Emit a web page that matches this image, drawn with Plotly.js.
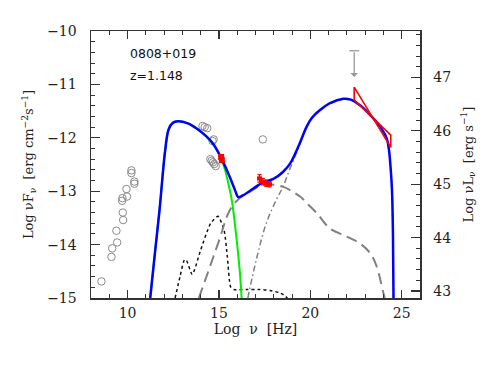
<!DOCTYPE html>
<html>
<head>
<meta charset="utf-8">
<script src="https://cdn.plot.ly/plotly-3.0.1.min.js"></script>
<style>html,body{margin:0;padding:0;background:#fff;}#chart{width:491px;height:365px;}</style>
</head>
<body>
<div id="chart"></div>
<script>
// Total model (blue)
const totalX = [11.24,11.5,11.75,12.06,12.25,12.48,12.75,13.3,13.8,14.3,14.7,15.13,15.6,15.88,16.06,16.3,16.88,17.43,17.98,18.5,18.9,19.35,19.8,20.1,20.53,21.08,21.8,22.17,22.72,23.27,23.82,24.18,24.3,24.4,24.47,24.52,24.55];
const totalY = [-15.0,-14.15,-13.35,-12.23,-11.84,-11.72,-11.69,-11.73,-11.83,-11.97,-12.12,-12.38,-12.74,-12.98,-13.11,-13.08,-12.95,-12.83,-12.77,-12.64,-12.48,-12.16,-11.79,-11.62,-11.48,-11.35,-11.27,-11.28,-11.39,-11.57,-11.79,-12.01,-12.22,-12.6,-13.0,-13.8,-15.0];
// Synchrotron (green)
const syncX = [11.24,11.5,11.75,12.06,12.25,12.48,12.75,13.3,13.8,14.3,14.7,15.13,15.35,15.51,15.7,15.97,16.15,16.24];
const syncY = [-15.0,-14.15,-13.35,-12.23,-11.84,-11.72,-11.69,-11.73,-11.83,-11.97,-12.13,-12.4,-12.62,-12.85,-13.16,-13.91,-14.54,-15.0];
// SSC (long dashed grey)
const sscX = [13.9,14.5,15.0,15.6,16.13,16.5,16.88,17.25,17.6,18.0,18.53,18.89,19.44,19.8,20.35,21.08,21.81,22.17,22.72,23.27,23.63,24.0,24.07];
const sscY = [-15.0,-14.42,-13.93,-13.35,-13.13,-13.05,-12.97,-12.9,-12.88,-12.88,-12.92,-12.98,-13.1,-13.22,-13.41,-13.7,-13.82,-13.88,-13.98,-14.16,-14.41,-14.91,-15.0];
// External Compton (dash-dot grey)
const ecX = [16.58,17.04,17.59,18.14,18.5,18.86,19.23,19.5,19.8,20.1,20.53,21.08,21.8,22.17,22.72,23.27,23.82,24.18,24.3,24.4,24.47,24.52,24.55];
const ecY = [-15.0,-14.29,-13.6,-13.16,-12.92,-12.6,-12.29,-12.04,-11.8,-11.63,-11.49,-11.36,-11.28,-11.29,-11.4,-11.58,-11.8,-12.02,-12.23,-12.61,-13.01,-13.81,-15.0];
// Disk + torus + corona (dotted black)
const diskX = [12.6,12.87,13.12,13.23,13.54,14.0,14.55,14.95,15.28,15.46,15.64,15.82,16.54,17.2,17.8,18.3,18.53,18.75];
const diskY = [-15.0,-14.6,-14.28,-14.3,-14.56,-14.1,-13.6,-13.47,-13.73,-14.23,-14.79,-14.84,-14.84,-14.84,-14.86,-14.9,-14.94,-15.0];
// Archival data (open grey circles)
const archX = [8.57,9.12,9.16,9.43,9.39,9.76,9.74,9.7,9.72,9.97,9.94,10.37,10.37,10.21,10.21,14.1,14.22,14.36,14.65,14.71,14.53,14.6,14.67,14.74,14.82,17.4];
const archY = [-14.69,-14.23,-14.07,-13.96,-13.74,-13.54,-13.4,-13.18,-13.13,-13.1,-12.96,-12.86,-12.82,-12.66,-12.61,-11.78,-11.8,-11.82,-12.06,-12.03,-12.4,-12.43,-12.46,-12.49,-12.53,-12.03];
// Simultaneous optical/UV (red)
const optX = [15.12,15.16];
const optY = [-12.36,-12.42];
// X-ray points (red, with errors)
const xrX = [17.22,17.4,17.59,17.77];
const xrY = [-12.76,-12.82,-12.85,-12.87];
const xrErrY = [0.07,0.06,0.06,0.05];
const xrErrX = [0.1,0.15,0.12,0.1];
// Fermi bow tie (red)
const bowX = [22.4,24.4,24.4,22.4,22.4];
const bowY = [-11.05,-12.18,-11.95,-11.29,-11.05];
// Upper limit
const ulX = [22.4];
const ulTop = [-10.37];
const ulTip = [-10.86];
// Labels
const sourceName = '0808+019';
const redshift = 'z=1.148';
const xTicks = [10,15,20,25];
const yTicks = [-15,-14,-13,-12,-11,-10];
const y2Ticks = [43,44,45,46,47];
const lumOffset = 57.869;

const serif = 'DejaVu Serif, Liberation Serif, serif';
const axCol = '#333';
const sm = 1.0;

const traces = [
  {x: archX, y: archY, mode: 'markers', type: 'scatter',
   marker: {symbol: 'circle-open', size: 7.5, color: '#8a8a8a', line: {width: 1, color: '#8a8a8a'}}},
  {x: diskX, y: diskY, mode: 'lines', type: 'scatter', line: {color: '#111', width: 1.5, dash: 'dot', shape: 'spline', smoothing: 0.6}},
  {x: sscX, y: sscY, mode: 'lines', type: 'scatter', line: {color: '#808080', width: 2, dash: '11px,6px', shape: 'spline', smoothing: sm}},
  {x: ecX, y: ecY, mode: 'lines', type: 'scatter', line: {color: '#808080', width: 1.5, dash: '6px,3px,1.5px,3px', shape: 'spline', smoothing: sm}},
  {x: syncX, y: syncY, mode: 'lines', type: 'scatter', line: {color: '#00ee00', width: 2, shape: 'spline', smoothing: sm}},
  {x: totalX, y: totalY, mode: 'lines', type: 'scatter', line: {color: '#0000ff', width: 2.5, shape: 'spline', smoothing: sm}},
  {x: bowX, y: bowY, mode: 'lines', type: 'scatter', line: {color: '#ff0000', width: 1.6}},
  {x: optX, y: optY, mode: 'markers', type: 'scatter', marker: {symbol: 'square', size: 6, color: '#ff0000'}},
  {x: xrX, y: xrY, mode: 'markers', type: 'scatter', marker: {symbol: 'square', size: 4, color: '#ff0000'},
   error_y: {type: 'data', array: xrErrY, color: '#ff0000', thickness: 1.2, width: 2},
   error_x: {type: 'data', array: xrErrX, color: '#ff0000', thickness: 1.2, width: 2}},
  {x: ulX, y: ulTop, mode: 'markers', type: 'scatter', marker: {symbol: 'line-ew', size: 7, line: {color: '#999', width: 1.3}}},
  {x: [22], y: [45], yaxis: 'y2', mode: 'markers', type: 'scatter', marker: {opacity: 0}, hoverinfo: 'skip'}
];

const layout = {
  width: 491, height: 365,
  margin: {l: 91, r: 71, t: 31, b: 67, pad: 0},
  paper_bgcolor: '#fff', plot_bgcolor: '#fff',
  showlegend: false,
  xaxis: {
    range: [8, 26], tickvals: xTicks, ticks: 'inside', ticklen: 8, tickwidth: 1.2, tickcolor: axCol,
    mirror: 'ticks', showline: true, linecolor: axCol, linewidth: 1.5, showgrid: false, zeroline: false,
    minor: {dtick: 1, tick0: 0, ticks: 'inside', ticklen: 4, tickwidth: 1, tickcolor: axCol, showgrid: false},
    tickfont: {family: serif, size: 14, color: '#222'}, ticklabelstandoff: 2,
    title: {text: 'Log  ν  [Hz]', font: {family: serif, size: 14, color: '#222'}, standoff: 4}
  },
  yaxis: {
    range: [-15, -10], tickvals: yTicks, ticks: 'inside', ticklen: 9, tickwidth: 1.2, tickcolor: axCol,
    showline: true, linecolor: axCol, linewidth: 1.5, showgrid: false, zeroline: false,
    minor: {dtick: 0.2, tick0: 0, ticks: 'inside', ticklen: 4, tickwidth: 1, tickcolor: axCol, showgrid: false},
    tickfont: {family: serif, size: 14, color: '#222'}, ticklabelstandoff: 10,
    title: {text: 'Log νF<sub>ν</sub>  [erg cm<sup>−2</sup>s<sup>−1</sup>]', font: {family: serif, size: 13, color: '#222'}, standoff: 10}
  },
  yaxis2: {
    overlaying: 'y', side: 'right', range: [-15 + lumOffset, -10 + lumOffset], tickvals: y2Ticks,
    ticks: 'inside', ticklen: 9, tickwidth: 1.2, tickcolor: axCol,
    showline: true, linecolor: axCol, linewidth: 1.5, showgrid: false, zeroline: false,
    minor: {dtick: 0.2, tick0: 0, ticks: 'inside', ticklen: 4, tickwidth: 1, tickcolor: axCol, showgrid: false},
    tickfont: {family: serif, size: 14, color: '#222'}, ticklabelstandoff: 9,
    title: {text: 'Log νL<sub>ν</sub>  [erg s<sup>−1</sup>]', font: {family: serif, size: 13, color: '#222'}, standoff: 13}
  },
  annotations: [
    {x: 10.0, y: -10.43, xref: 'x', yref: 'y', text: sourceName, showarrow: false, xanchor: 'left', yanchor: 'middle',
     font: {family: 'DejaVu Sans, sans-serif', size: 12.5, color: '#111'}},
    {x: 10.0, y: -10.84, xref: 'x', yref: 'y', text: redshift, showarrow: false, xanchor: 'left', yanchor: 'middle',
     font: {family: 'DejaVu Sans, sans-serif', size: 12.5, color: '#111'}},
    {x: ulX[0], y: ulTip[0], ax: ulX[0], ay: ulTop[0], xref: 'x', yref: 'y', axref: 'x', ayref: 'y', text: '',
     showarrow: true, arrowhead: 1, arrowsize: 1, arrowwidth: 1.3, arrowcolor: '#999'}
  ]
};

Plotly.newPlot('chart', traces, layout, {displayModeBar: false, staticPlot: true});
</script>
</body>
</html>
